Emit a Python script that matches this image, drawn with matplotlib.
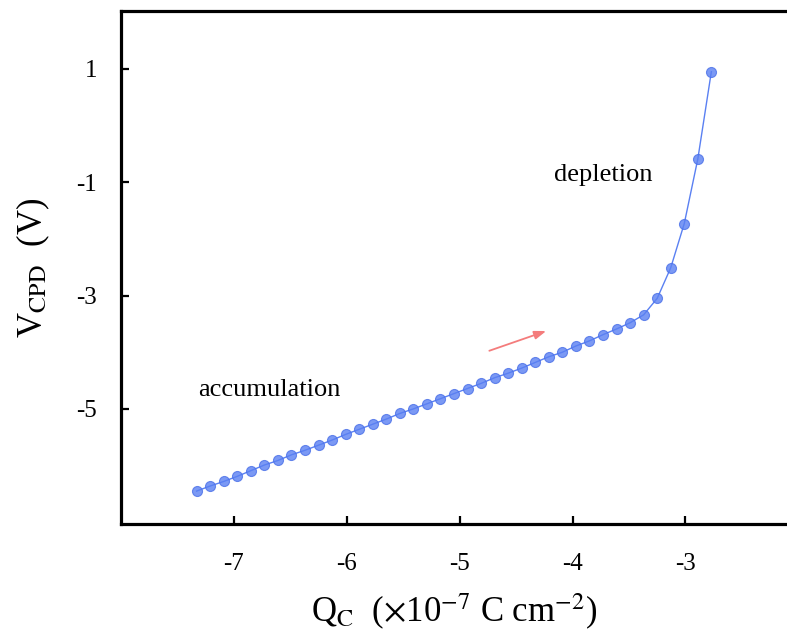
import numpy as np
from matplotlib import pyplot as plt

# charge density (x 1e-7 C cm^-2) and contact potential difference (V)
qc = np.round(np.arange(39) * 0.12 - 7.33, 3)
vcpd = [-6.45, -6.36, -6.28, -6.19, -6.09, -5.99, -5.91, -5.81, -5.73, -5.64,
        -5.55, -5.45, -5.36, -5.27, -5.18, -5.08, -5.00, -4.91, -4.82, -4.73,
        -4.64, -4.55, -4.45, -4.37, -4.28, -4.18, -4.08, -4.00, -3.89, -3.80,
        -3.69, -3.59, -3.48, -3.34, -3.05, -2.51, -1.73, -0.59, 0.95]

xticks = [-7, -6, -5, -4, -3]
yticks = [1, -1, -3, -5]

plt.rcParams['font.family'] = ['Liberation Serif', 'DejaVu Serif']
plt.rcParams['mathtext.fontset'] = 'stix'
plt.rcParams['axes.unicode_minus'] = False

fig = plt.figure(figsize=(7.87, 6.39), dpi=100)
ax = fig.add_axes([0.1537, 0.18, 0.8463, 0.8028])

ax.plot(qc, vcpd, '-', color='#5a80f2', lw=1.0, zorder=2)
ax.plot(qc, vcpd, 'o', ms=7.2, mfc='#5a80f2', mec='#4a70e8', mew=0.8,
        alpha=0.8, zorder=3)

ax.annotate('', xy=(-4.21, -3.61), xytext=(-4.76, -3.99),
            arrowprops=dict(arrowstyle='-|>,head_length=0.7,head_width=0.25',
                            color='#f47c7c', lw=1.3))

ax.text(-3.73, -0.87, 'depletion', fontsize=19, ha='center', va='center')
ax.text(-6.69, -4.67, 'accumulation', fontsize=19, ha='center', va='center')

ax.set_xlim(-8, -2.1)
ax.set_ylim(-7.03, 2.02)
ax.set_xticks(xticks)
ax.set_yticks(yticks)
ax.tick_params(direction='in', length=6, width=1.6, labelsize=18)
ax.tick_params(axis='x', pad=21)
ax.tick_params(axis='y', pad=17)

ax.spines['right'].set_visible(False)
for s in ['left', 'top', 'bottom']:
    ax.spines[s].set_linewidth(2.3)

ax.set_xlabel(r'Q$_{\rm C}$  ($\times$10$^{-7}$ C cm$^{-2}$)', fontsize=25,
              labelpad=12)
ax.set_ylabel(r'V$_{\rm CPD}$  (V)', fontsize=25, labelpad=18)

plt.savefig('out.png', dpi=100)
